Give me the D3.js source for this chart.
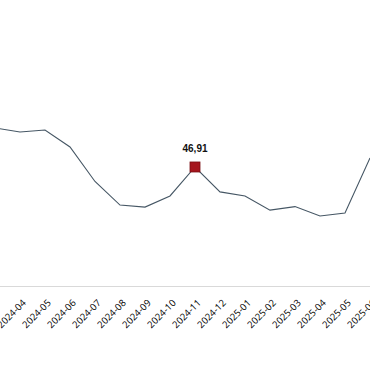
<!DOCTYPE html>
<html><head><meta charset="utf-8">
<script src="https://cdn.jsdelivr.net/npm/d3@7/dist/d3.min.js"></script>
<style>html,body{margin:0;padding:0;background:#fff;overflow:hidden}</style>
</head><body>
<svg id="chart" width="370" height="380"></svg>
<script>
const months = ["2024-03","2024-04","2024-05","2024-06","2024-07","2024-08","2024-09","2024-10","2024-11","2024-12","2025-01","2025-02","2025-03","2025-04","2025-05","2025-06"];
const values = [62.3,60.7,61.5,54.8,41.2,31.9,31.1,35.5,46.91,37.1,35.5,29.9,31.3,27.6,28.8,50.5];
const highlightMonth = "2024-11";
const highlightLabel = "46,91";

const svg = d3.select("#chart");
const x = d3.scalePoint().domain(months).range([-5, 370]);
const y = d3.scaleLinear().domain([0, 100]).range([286, 32.3]);

svg.append("line").attr("x1", 0).attr("x2", 370).attr("y1", 286.5).attr("y2", 286.5)
  .attr("stroke", "#d9d9d9").attr("stroke-width", 1);

const xAxis = svg.append("g").attr("transform", "translate(0,286)")
  .call(d3.axisBottom(x).tickValues(months.slice(1)).tickSize(0).tickPadding(0));
xAxis.select(".domain").remove();
xAxis.selectAll("text")
  .attr("font-family", "'Open Sans', Arial, sans-serif")
  .attr("font-size", 9.5).attr("fill", "#000")
  .attr("text-anchor", "end").attr("dy", null).attr("y", 0)
  .attr("transform", "translate(6,17.5) rotate(-45)");

const line = d3.line().x((d, i) => x(months[i])).y(d => y(d));
svg.append("path").datum(values).attr("d", line)
  .attr("fill", "none").attr("stroke", "#455664").attr("stroke-width", 1.1);

const hi = months.indexOf(highlightMonth);
const hx = x(months[hi]), hy = y(values[hi]);
svg.append("rect").attr("x", hx - 5).attr("y", hy - 5).attr("width", 10).attr("height", 10)
  .attr("fill", "#a5161d").attr("stroke", "#7a0d12").attr("stroke-width", 0.8);
svg.append("text").attr("x", hx).attr("y", hy - 15).attr("text-anchor", "middle")
  .attr("font-family", "'Liberation Sans', Arial, sans-serif").attr("font-size", 10)
  .attr("font-weight", "bold").attr("fill", "#111").text(highlightLabel);
</script>
</body></html>
